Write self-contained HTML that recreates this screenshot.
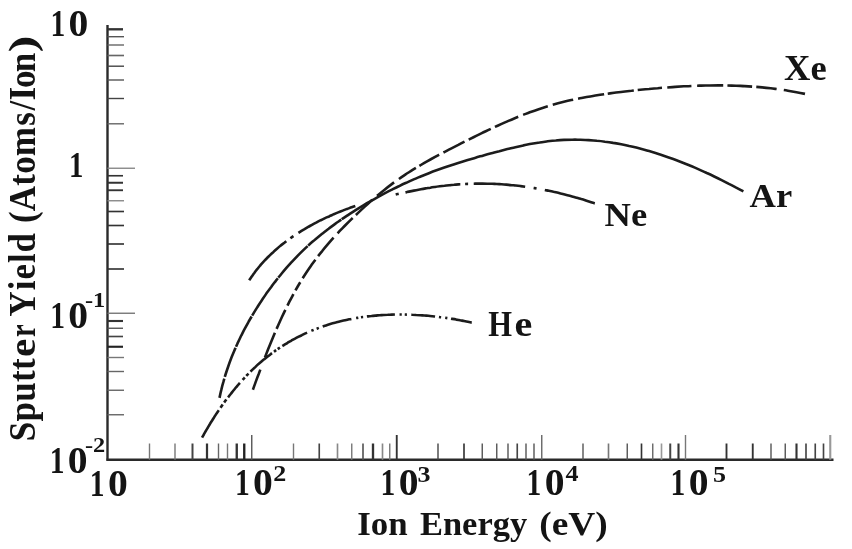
<!DOCTYPE html>
<html lang="en">
<head>
<meta charset="utf-8">
<title>Sputter Yield vs Ion Energy</title>
<style>
html,body{margin:0;padding:0;background:#fff;}
body{width:852px;height:549px;overflow:hidden;}
svg{display:block;filter:blur(0.45px);}
text{font-family:"Liberation Serif","Times New Roman",serif;font-weight:bold;fill:#141414;}
.big{font-size:33px;}.rot{font-size:35px;}
.sup{font-size:22px;}.sup2{font-size:23.5px;}
.curve{fill:none;stroke:#1c1c1c;stroke-width:2.6;stroke-linecap:butt;stroke-linejoin:round;}
</style>
</head>
<body>
<svg width="852" height="549" viewBox="0 0 852 549">
<rect x="0" y="0" width="852" height="549" fill="#ffffff"/>

<g id="axes" stroke="#2a2a2a" fill="none">
<line x1="107.5" y1="25" x2="107.5" y2="460.7" stroke-width="2.4"/>
<line x1="106.5" y1="459.7" x2="833.5" y2="459.7" stroke-width="2.6"/>
</g>
<g id="yticks">
<line x1="107.5" y1="29.3" x2="123" y2="29.3" stroke="#333" stroke-width="2.36"/>
<line x1="107.5" y1="36.7" x2="124" y2="36.7" stroke="#555" stroke-width="1.4"/>
<line x1="107.5" y1="45" x2="124" y2="45" stroke="#666" stroke-width="1.4"/>
<line x1="107.5" y1="55.5" x2="124" y2="55.5" stroke="#666" stroke-width="1.64"/>
<line x1="107.5" y1="66.2" x2="124" y2="66.2" stroke="#444" stroke-width="1.4"/>
<line x1="107.5" y1="80" x2="124" y2="80" stroke="#555" stroke-width="1.4"/>
<line x1="107.5" y1="98.5" x2="124" y2="98.5" stroke="#444" stroke-width="1.4"/>
<line x1="107.5" y1="123.8" x2="124" y2="123.8" stroke="#666" stroke-width="1.4"/>
<line x1="107.5" y1="168.25" x2="135" y2="168.25" stroke="#888" stroke-width="1.4"/>
<line x1="107.5" y1="175.75" x2="123" y2="175.75" stroke="#333" stroke-width="1.64"/>
<line x1="107.5" y1="182.75" x2="123" y2="182.75" stroke="#333" stroke-width="2.0"/>
<line x1="107.5" y1="190.25" x2="123" y2="190.25" stroke="#333" stroke-width="1.88"/>
<line x1="107.5" y1="200.75" x2="124" y2="200.75" stroke="#888" stroke-width="1.4"/>
<line x1="107.5" y1="211.5" x2="124" y2="211.5" stroke="#333" stroke-width="1.64"/>
<line x1="107.5" y1="225.5" x2="124" y2="225.5" stroke="#333" stroke-width="1.64"/>
<line x1="107.5" y1="244" x2="124" y2="244" stroke="#333" stroke-width="1.64"/>
<line x1="107.5" y1="269" x2="124" y2="269" stroke="#333" stroke-width="1.64"/>
<line x1="107.5" y1="313.25" x2="135" y2="313.25" stroke="#777" stroke-width="1.4"/>
<line x1="107.5" y1="321" x2="123" y2="321" stroke="#333" stroke-width="2.12"/>
<line x1="107.5" y1="328.25" x2="123" y2="328.25" stroke="#555" stroke-width="1.4"/>
<line x1="107.5" y1="336.5" x2="123" y2="336.5" stroke="#444" stroke-width="1.64"/>
<line x1="107.5" y1="346.75" x2="123" y2="346.75" stroke="#222" stroke-width="2.12"/>
<line x1="107.5" y1="357.5" x2="124" y2="357.5" stroke="#777" stroke-width="1.4"/>
<line x1="107.5" y1="371.5" x2="124" y2="371.5" stroke="#666" stroke-width="1.4"/>
<line x1="107.5" y1="390.25" x2="124" y2="390.25" stroke="#666" stroke-width="1.4"/>
<line x1="107.5" y1="414.75" x2="124" y2="414.75" stroke="#666" stroke-width="1.4"/>
</g>
<g id="xticks">
<line x1="149.5" y1="443.5" x2="149.5" y2="459.7" stroke="#777" stroke-width="1.4"/>
<line x1="175" y1="443.5" x2="175" y2="459.7" stroke="#777" stroke-width="1.4"/>
<line x1="192.5" y1="443.5" x2="192.5" y2="459.7" stroke="#444" stroke-width="2.0"/>
<line x1="207" y1="443.5" x2="207" y2="459.7" stroke="#333" stroke-width="2.24"/>
<line x1="218.5" y1="443.5" x2="218.5" y2="459.7" stroke="#666" stroke-width="1.4"/>
<line x1="227.5" y1="443.5" x2="227.5" y2="459.7" stroke="#777" stroke-width="1.4"/>
<line x1="236.75" y1="443.5" x2="236.75" y2="459.7" stroke="#333" stroke-width="2.36"/>
<line x1="244.25" y1="443.5" x2="244.25" y2="459.7" stroke="#222" stroke-width="2.36"/>
<line x1="251.75" y1="435" x2="251.75" y2="459.7" stroke="#555" stroke-width="1.4"/>
<line x1="293.5" y1="443.5" x2="293.5" y2="459.7" stroke="#777" stroke-width="1.4"/>
<line x1="319.25" y1="443.5" x2="319.25" y2="459.7" stroke="#444" stroke-width="1.64"/>
<line x1="337.5" y1="443.5" x2="337.5" y2="459.7" stroke="#888" stroke-width="1.64"/>
<line x1="351.75" y1="443.5" x2="351.75" y2="459.7" stroke="#777" stroke-width="1.4"/>
<line x1="363" y1="443.5" x2="363" y2="459.7" stroke="#555" stroke-width="1.64"/>
<line x1="373" y1="443.5" x2="373" y2="459.7" stroke="#333" stroke-width="2.36"/>
<line x1="382.5" y1="443.5" x2="382.5" y2="459.7" stroke="#888" stroke-width="1.64"/>
<line x1="389.75" y1="443.5" x2="389.75" y2="459.7" stroke="#777" stroke-width="1.4"/>
<line x1="396.75" y1="435" x2="396.75" y2="459.7" stroke="#333" stroke-width="1.88"/>
<line x1="438" y1="443.5" x2="438" y2="459.7" stroke="#444" stroke-width="1.4"/>
<line x1="464" y1="443.5" x2="464" y2="459.7" stroke="#333" stroke-width="1.64"/>
<line x1="482.25" y1="443.5" x2="482.25" y2="459.7" stroke="#555" stroke-width="1.4"/>
<line x1="496.75" y1="443.5" x2="496.75" y2="459.7" stroke="#555" stroke-width="1.4"/>
<line x1="508" y1="443.5" x2="508" y2="459.7" stroke="#555" stroke-width="1.4"/>
<line x1="517.25" y1="443.5" x2="517.25" y2="459.7" stroke="#444" stroke-width="1.64"/>
<line x1="526" y1="443.5" x2="526" y2="459.7" stroke="#555" stroke-width="1.4"/>
<line x1="534" y1="443.5" x2="534" y2="459.7" stroke="#555" stroke-width="1.4"/>
<line x1="541.75" y1="435" x2="541.75" y2="459.7" stroke="#666" stroke-width="1.4"/>
<line x1="583" y1="443.5" x2="583" y2="459.7" stroke="#555" stroke-width="1.4"/>
<line x1="608.5" y1="443.5" x2="608.5" y2="459.7" stroke="#777" stroke-width="1.64"/>
<line x1="627.25" y1="443.5" x2="627.25" y2="459.7" stroke="#555" stroke-width="1.4"/>
<line x1="641.5" y1="443.5" x2="641.5" y2="459.7" stroke="#333" stroke-width="1.64"/>
<line x1="652.75" y1="443.5" x2="652.75" y2="459.7" stroke="#666" stroke-width="1.4"/>
<line x1="661.5" y1="443.5" x2="661.5" y2="459.7" stroke="#999" stroke-width="1.64"/>
<line x1="670.25" y1="443.5" x2="670.25" y2="459.7" stroke="#444" stroke-width="2.0"/>
<line x1="678.5" y1="443.5" x2="678.5" y2="459.7" stroke="#333" stroke-width="2.12"/>
<line x1="685.5" y1="435" x2="685.5" y2="459.7" stroke="#777" stroke-width="1.4"/>
<line x1="726.5" y1="443.5" x2="726.5" y2="459.7" stroke="#333" stroke-width="1.88"/>
<line x1="752.75" y1="443.5" x2="752.75" y2="459.7" stroke="#333" stroke-width="1.88"/>
<line x1="771" y1="443.5" x2="771" y2="459.7" stroke="#555" stroke-width="1.4"/>
<line x1="785.25" y1="443.5" x2="785.25" y2="459.7" stroke="#555" stroke-width="1.4"/>
<line x1="796.5" y1="443.5" x2="796.5" y2="459.7" stroke="#333" stroke-width="2.12"/>
<line x1="806" y1="443.5" x2="806" y2="459.7" stroke="#444" stroke-width="1.64"/>
<line x1="815.25" y1="443.5" x2="815.25" y2="459.7" stroke="#444" stroke-width="1.64"/>
<line x1="823.5" y1="443.5" x2="823.5" y2="459.7" stroke="#444" stroke-width="1.64"/>
<line x1="830.25" y1="435" x2="830.25" y2="459.7" stroke="#999" stroke-width="2.12"/>
</g>
<g id="curves">
<path class="curve" id="he" stroke-dasharray="32.1 3.0 3.8 2.6 3.7 2.7 18.8 4.0 3.2 2.2 3.2 2.8 28.4 2.4 2.7 1.9 2.7 2.9 28.1 4.7 2.4 3.2 2.4 4.1 29.7 4.8 2.2 2.7 2.2 3.8 28.1 4.6 2.2 3.0 2.2 4.4 23.8 3.9 2.2 4.1 2.2 3.7 21.1 9999.0" d="M202.1,437.6 C202.4,437.0 203.4,435.3 204.0,434.1 C204.7,432.9 205.4,431.8 206.0,430.6 C206.7,429.5 207.4,428.3 208.1,427.1 C208.8,426.0 209.4,424.8 210.1,423.7 C210.8,422.5 211.6,421.4 212.3,420.3 C213.0,419.1 213.7,418.0 214.4,416.8 C215.2,415.7 215.9,414.6 216.6,413.4 C217.4,412.3 218.1,411.2 218.9,410.1 C219.7,409.0 220.4,407.8 221.2,406.7 C222.0,405.6 222.8,404.5 223.5,403.4 C224.3,402.3 225.1,401.2 225.9,400.1 C226.7,399.1 227.6,398.0 228.4,396.9 C229.2,395.8 230.0,394.8 230.9,393.7 C231.7,392.6 232.6,391.6 233.4,390.5 C234.3,389.5 235.1,388.4 236.0,387.4 C236.9,386.4 237.7,385.3 238.6,384.3 C239.5,383.3 240.4,382.3 241.3,381.3 C242.2,380.3 243.1,379.3 244.0,378.3 C245.0,377.3 245.9,376.3 246.8,375.3 C247.8,374.4 248.7,373.4 249.6,372.5 C250.6,371.5 251.6,370.6 252.5,369.6 C253.5,368.7 254.5,367.8 255.5,366.9 C256.5,365.9 257.4,365.0 258.5,364.1 C259.5,363.2 260.5,362.4 261.5,361.5 C262.5,360.6 263.5,359.8 264.6,358.9 C265.6,358.1 266.7,357.2 267.7,356.4 C268.8,355.6 269.8,354.8 270.9,353.9 C272.0,353.1 273.1,352.4 274.2,351.6 C275.3,350.8 276.4,350.0 277.5,349.3 C278.6,348.5 279.7,347.8 280.8,347.0 C281.9,346.3 283.1,345.6 284.2,344.9 C285.3,344.2 286.5,343.5 287.6,342.8 C288.8,342.1 289.9,341.4 291.1,340.8 C292.3,340.1 293.4,339.4 294.6,338.8 C295.8,338.2 297.0,337.6 298.2,336.9 C299.4,336.3 300.6,335.7 301.8,335.2 C303.0,334.6 304.2,334.0 305.4,333.4 C306.6,332.9 307.9,332.3 309.1,331.8 C310.3,331.3 311.6,330.8 312.8,330.2 C314.0,329.7 315.3,329.2 316.5,328.8 C317.8,328.3 319.0,327.8 320.3,327.4 C321.6,326.9 322.8,326.5 324.1,326.0 C325.4,325.6 326.6,325.2 327.9,324.8 C329.2,324.4 330.5,324.0 331.8,323.6 C333.1,323.3 334.4,322.9 335.7,322.6 C337.0,322.2 338.3,321.9 339.6,321.5 C340.9,321.2 342.2,320.9 343.5,320.6 C344.8,320.3 346.1,320.0 347.4,319.7 C348.8,319.4 350.1,319.2 351.4,318.9 C352.7,318.7 354.1,318.4 355.4,318.2 C356.7,318.0 358.1,317.7 359.4,317.5 C360.7,317.3 362.1,317.1 363.4,317.0 C364.7,316.8 366.1,316.6 367.4,316.4 C368.8,316.3 370.1,316.1 371.5,316.0 C372.8,315.8 374.2,315.7 375.5,315.6 C376.9,315.5 378.2,315.3 379.6,315.2 C380.9,315.1 382.3,315.1 383.6,315.0 C385.0,314.9 386.4,314.8 387.7,314.8 C389.1,314.7 390.4,314.7 391.8,314.6 C393.1,314.6 394.5,314.6 395.9,314.5 C397.2,314.5 398.6,314.5 399.9,314.5 C401.3,314.5 402.7,314.5 404.0,314.5 C405.4,314.6 406.7,314.6 408.1,314.6 C409.5,314.7 410.8,314.7 412.2,314.8 C413.5,314.8 414.9,314.9 416.2,315.0 C417.6,315.0 418.9,315.1 420.3,315.2 C421.6,315.3 423.0,315.4 424.3,315.5 C425.7,315.6 427.0,315.7 428.4,315.8 C429.7,316.0 431.1,316.1 432.4,316.2 C433.8,316.4 435.1,316.5 436.4,316.7 C437.8,316.8 439.1,317.0 440.4,317.2 C441.8,317.3 443.1,317.5 444.4,317.7 C445.8,317.9 447.1,318.1 448.4,318.3 C449.7,318.5 451.0,318.7 452.3,318.9 C453.7,319.1 455.0,319.3 456.3,319.6 C457.6,319.8 458.9,320.0 460.2,320.3 C461.5,320.5 462.8,320.8 464.1,321.0 C465.4,321.3 466.7,321.6 467.9,321.8 C469.2,322.1 471.1,322.5 471.8,322.6"/>
<path class="curve" id="ar" stroke-dasharray="19.8 1.8 31.1 1.2 34.0 1.0 45.4 0.8 43.1 0.7 42.1 0.6 427.5 9999.0" d="M219.5,397.9 C219.8,396.6 220.6,392.5 221.3,389.9 C221.9,387.2 222.6,384.5 223.4,381.9 C224.1,379.3 224.9,376.6 225.7,374.0 C226.5,371.4 227.4,368.8 228.3,366.2 C229.2,363.6 230.1,361.1 231.1,358.5 C232.1,356.0 233.1,353.4 234.2,350.9 C235.3,348.4 236.4,345.9 237.5,343.4 C238.7,340.9 239.8,338.5 241.0,336.0 C242.3,333.5 243.5,331.1 244.8,328.7 C246.1,326.3 247.4,323.9 248.7,321.5 C250.1,319.1 251.5,316.7 252.9,314.4 C254.3,312.0 255.7,309.7 257.2,307.4 C258.7,305.0 260.1,302.7 261.7,300.4 C263.2,298.2 264.8,295.9 266.3,293.6 C267.9,291.4 269.5,289.2 271.2,287.0 C272.8,284.7 274.5,282.6 276.1,280.4 C277.8,278.2 279.6,276.1 281.3,274.0 C283.0,271.9 284.8,269.8 286.6,267.7 C288.4,265.6 290.3,263.6 292.1,261.6 C294.0,259.6 295.9,257.6 297.8,255.6 C299.7,253.7 301.6,251.8 303.6,249.9 C305.6,248.0 307.6,246.1 309.6,244.3 C311.7,242.5 313.7,240.7 315.8,238.9 C317.9,237.2 320.0,235.5 322.1,233.8 C324.3,232.1 326.4,230.4 328.6,228.8 C330.8,227.1 333.0,225.5 335.2,223.9 C337.4,222.3 339.7,220.8 341.9,219.2 C344.2,217.7 346.5,216.1 348.7,214.6 C351.0,213.1 353.3,211.7 355.6,210.2 C358.0,208.7 360.3,207.3 362.6,205.9 C365.0,204.4 367.3,203.0 369.7,201.7 C372.1,200.3 374.5,198.9 376.9,197.6 C379.3,196.3 381.7,195.0 384.1,193.7 C386.5,192.4 388.9,191.1 391.4,189.9 C393.8,188.7 396.3,187.4 398.8,186.3 C401.2,185.1 403.7,183.9 406.2,182.8 C408.7,181.6 411.2,180.5 413.7,179.4 C416.2,178.3 418.7,177.3 421.3,176.2 C423.8,175.2 426.3,174.2 428.9,173.2 C431.4,172.2 434.0,171.2 436.5,170.3 C439.1,169.4 441.7,168.5 444.3,167.6 C446.8,166.7 449.4,165.8 452.0,164.9 C454.6,164.1 457.2,163.2 459.8,162.4 C462.4,161.6 465.1,160.8 467.7,160.0 C470.3,159.2 472.9,158.5 475.6,157.7 C478.2,156.9 480.8,156.2 483.5,155.4 C486.1,154.7 488.8,154.0 491.4,153.3 C494.1,152.6 496.7,151.8 499.4,151.2 C502.0,150.5 504.7,149.8 507.4,149.1 C510.0,148.5 512.7,147.8 515.4,147.2 C518.1,146.6 520.8,146.0 523.4,145.4 C526.1,144.9 528.8,144.3 531.5,143.8 C534.2,143.3 536.9,142.9 539.6,142.5 C542.3,142.0 545.0,141.7 547.7,141.3 C550.4,141.0 553.1,140.7 555.8,140.5 C558.6,140.2 561.3,140.0 564.0,139.9 C566.7,139.8 569.5,139.7 572.2,139.7 C574.9,139.6 577.7,139.7 580.4,139.7 C583.1,139.8 585.8,139.9 588.6,140.1 C591.3,140.3 594.0,140.5 596.8,140.8 C599.5,141.0 602.2,141.3 604.9,141.7 C607.6,142.0 610.4,142.4 613.1,142.9 C615.8,143.3 618.5,143.8 621.2,144.3 C623.9,144.8 626.6,145.4 629.2,146.0 C631.9,146.5 634.6,147.2 637.2,147.8 C639.9,148.5 642.6,149.2 645.2,149.9 C647.8,150.7 650.5,151.4 653.1,152.2 C655.7,153.0 658.3,153.9 660.9,154.7 C663.5,155.6 666.1,156.5 668.7,157.4 C671.3,158.3 673.9,159.2 676.5,160.2 C679.0,161.2 681.6,162.2 684.1,163.2 C686.7,164.2 689.2,165.3 691.7,166.3 C694.3,167.4 696.8,168.5 699.3,169.6 C701.8,170.7 704.3,171.8 706.8,173.0 C709.3,174.1 711.8,175.3 714.2,176.5 C716.7,177.7 719.2,178.9 721.6,180.1 C724.1,181.3 726.5,182.5 728.9,183.8 C731.4,185.0 733.8,186.3 736.2,187.6 C738.6,188.8 742.2,190.8 743.4,191.4"/>
<path class="curve" id="xe" stroke-dasharray="0.0 0.4 21.4 12.9 26.6 4.3 21.0 4.7 13.0 4.1 9.5 4.7 22.5 4.5 24.1 5.9 21.5 4.4 22.4 6.1 21.7 6.0 20.2 4.1 22.7 4.8 23.7 4.7 24.5 4.6 25.4 5.3 26.1 5.2 21.0 5.0 26.5 3.6 26.3 3.9 24.4 5.3 24.2 5.7 26.1 4.2 24.7 4.2 20.5 7.2 21.5 9999.0" d="M252.8,390.0 C253.3,388.7 254.7,384.6 255.7,381.9 C256.7,379.1 257.7,376.4 258.8,373.7 C259.8,371.0 260.8,368.3 261.8,365.5 C262.8,362.8 263.9,360.1 264.9,357.4 C266.0,354.7 267.0,352.0 268.1,349.3 C269.2,346.6 270.3,343.9 271.4,341.2 C272.5,338.5 273.6,335.9 274.7,333.2 C275.9,330.5 277.0,327.9 278.2,325.2 C279.4,322.6 280.6,319.9 281.8,317.3 C283.0,314.7 284.2,312.1 285.5,309.5 C286.8,306.9 288.1,304.3 289.4,301.7 C290.7,299.1 292.1,296.6 293.5,294.0 C294.9,291.5 296.3,289.0 297.7,286.5 C299.2,284.0 300.7,281.5 302.2,279.0 C303.7,276.6 305.3,274.1 306.9,271.7 C308.5,269.3 310.2,266.9 311.8,264.6 C313.5,262.2 315.2,259.9 317.0,257.6 C318.7,255.3 320.5,253.0 322.4,250.8 C324.2,248.5 326.0,246.3 327.9,244.1 C329.8,241.9 331.7,239.7 333.6,237.6 C335.6,235.4 337.6,233.3 339.5,231.2 C341.5,229.1 343.6,227.1 345.6,225.0 C347.6,223.0 349.7,220.9 351.8,218.9 C353.9,216.9 356.0,214.9 358.1,212.9 C360.2,210.9 362.3,208.9 364.5,206.9 C366.6,205.0 368.8,203.0 370.9,201.1 C373.1,199.2 375.3,197.3 377.5,195.4 C379.8,193.5 382.0,191.7 384.3,189.9 C386.5,188.1 388.8,186.3 391.1,184.6 C393.5,182.8 395.8,181.1 398.2,179.5 C400.5,177.8 402.9,176.2 405.3,174.6 C407.7,173.0 410.2,171.5 412.6,169.9 C415.1,168.4 417.5,166.9 420.0,165.5 C422.5,164.0 425.0,162.5 427.5,161.1 C430.0,159.7 432.6,158.3 435.1,156.9 C437.7,155.5 440.2,154.2 442.8,152.8 C445.4,151.5 447.9,150.1 450.5,148.8 C453.1,147.5 455.7,146.2 458.3,144.9 C460.9,143.5 463.5,142.2 466.1,140.9 C468.7,139.6 471.3,138.3 474.0,137.0 C476.6,135.8 479.2,134.5 481.8,133.2 C484.4,131.9 487.1,130.7 489.7,129.4 C492.3,128.2 495.0,126.9 497.6,125.7 C500.3,124.5 502.9,123.3 505.6,122.1 C508.2,121.0 510.9,119.8 513.6,118.7 C516.3,117.6 519.0,116.5 521.7,115.4 C524.4,114.4 527.1,113.3 529.8,112.3 C532.5,111.3 535.2,110.3 538.0,109.4 C540.7,108.5 543.4,107.6 546.2,106.7 C549.0,105.9 551.7,105.1 554.5,104.3 C557.3,103.5 560.1,102.8 562.9,102.1 C565.7,101.4 568.5,100.7 571.3,100.1 C574.2,99.5 577.0,98.9 579.8,98.3 C582.7,97.8 585.5,97.2 588.4,96.7 C591.2,96.2 594.1,95.8 597.0,95.3 C599.8,94.8 602.7,94.4 605.6,94.0 C608.5,93.6 611.3,93.2 614.2,92.8 C617.1,92.4 620.0,92.1 622.9,91.7 C625.8,91.4 628.7,91.1 631.6,90.8 C634.5,90.4 637.4,90.1 640.3,89.8 C643.2,89.5 646.1,89.2 649.0,89.0 C651.9,88.7 654.8,88.4 657.7,88.2 C660.6,87.9 663.5,87.7 666.4,87.5 C669.3,87.3 672.2,87.1 675.1,86.9 C678.0,86.7 680.9,86.5 683.8,86.3 C686.7,86.2 689.6,86.1 692.5,85.9 C695.4,85.8 698.3,85.7 701.2,85.6 C704.1,85.6 707.0,85.5 709.9,85.5 C712.8,85.4 715.7,85.4 718.6,85.4 C721.5,85.4 724.4,85.4 727.3,85.5 C730.2,85.6 733.1,85.6 736.0,85.7 C738.9,85.8 741.8,86.0 744.7,86.1 C747.6,86.3 750.5,86.5 753.3,86.7 C756.2,86.9 759.1,87.1 762.0,87.4 C764.9,87.7 767.8,88.0 770.7,88.3 C773.5,88.7 776.4,89.0 779.3,89.4 C782.2,89.8 785.0,90.2 787.9,90.7 C790.8,91.2 793.7,91.7 796.5,92.2 C799.4,92.7 803.7,93.6 805.1,93.9"/>
<path class="curve" id="ne" stroke-dasharray="0.0 0.9 54.1 5.0 3.7 6.0 63.0 42.0 3.1 6.9 55.5 4.8 3.0 5.6 51.6 8.5 3.0 8.4 51.8 9999.0" d="M248.8,280.9 C249.2,280.2 250.5,278.2 251.4,276.9 C252.4,275.6 253.3,274.3 254.3,273.0 C255.2,271.7 256.2,270.4 257.2,269.2 C258.2,267.9 259.2,266.7 260.2,265.5 C261.3,264.3 262.3,263.1 263.4,261.9 C264.5,260.8 265.5,259.6 266.6,258.5 C267.7,257.3 268.9,256.2 270.0,255.1 C271.1,254.0 272.3,252.9 273.5,251.9 C274.6,250.8 275.8,249.7 277.0,248.7 C278.2,247.7 279.4,246.7 280.6,245.6 C281.9,244.6 283.1,243.7 284.4,242.7 C285.6,241.7 286.9,240.8 288.2,239.8 C289.4,238.9 290.7,238.0 292.0,237.1 C293.3,236.2 294.7,235.3 296.0,234.4 C297.3,233.5 298.6,232.7 300.0,231.8 C301.3,231.0 302.7,230.1 304.1,229.3 C305.4,228.5 306.8,227.7 308.2,226.9 C309.6,226.1 311.0,225.4 312.4,224.6 C313.8,223.8 315.2,223.1 316.6,222.4 C318.0,221.6 319.4,220.9 320.8,220.2 C322.3,219.5 323.7,218.8 325.1,218.1 C326.6,217.5 328.0,216.8 329.5,216.2 C330.9,215.5 332.4,214.9 333.8,214.2 C335.3,213.6 336.8,213.0 338.2,212.4 C339.7,211.8 341.2,211.2 342.7,210.6 C344.1,210.1 345.6,209.5 347.1,208.9 C348.6,208.4 350.1,207.8 351.6,207.3 C353.1,206.8 354.6,206.3 356.1,205.7 C357.6,205.2 359.1,204.7 360.6,204.2 C362.1,203.8 363.6,203.3 365.2,202.8 C366.7,202.3 368.2,201.9 369.7,201.4 C371.3,201.0 372.8,200.5 374.3,200.1 C375.8,199.6 377.4,199.2 378.9,198.8 C380.5,198.4 382.0,198.0 383.5,197.6 C385.1,197.2 386.6,196.8 388.2,196.4 C389.7,196.0 391.3,195.6 392.8,195.2 C394.4,194.9 395.9,194.5 397.5,194.1 C399.0,193.8 400.6,193.4 402.1,193.1 C403.7,192.7 405.2,192.4 406.8,192.1 C408.4,191.7 409.9,191.4 411.5,191.1 C413.1,190.8 414.6,190.5 416.2,190.2 C417.7,189.9 419.3,189.6 420.9,189.3 C422.5,189.0 424.0,188.7 425.6,188.4 C427.2,188.2 428.7,187.9 430.3,187.7 C431.9,187.4 433.5,187.2 435.0,187.0 C436.6,186.7 438.2,186.5 439.8,186.3 C441.3,186.1 442.9,185.9 444.5,185.7 C446.1,185.6 447.7,185.4 449.2,185.2 C450.8,185.1 452.4,184.9 454.0,184.8 C455.6,184.6 457.2,184.5 458.7,184.4 C460.3,184.3 461.9,184.2 463.5,184.1 C465.1,184.0 466.7,183.9 468.3,183.9 C469.8,183.8 471.4,183.7 473.0,183.7 C474.6,183.7 476.2,183.6 477.8,183.6 C479.4,183.6 481.0,183.6 482.5,183.6 C484.1,183.6 485.7,183.6 487.3,183.7 C488.9,183.7 490.5,183.8 492.1,183.8 C493.6,183.9 495.2,183.9 496.8,184.0 C498.4,184.1 500.0,184.2 501.6,184.3 C503.2,184.4 504.7,184.5 506.3,184.6 C507.9,184.8 509.5,184.9 511.1,185.1 C512.7,185.2 514.2,185.4 515.8,185.5 C517.4,185.7 519.0,185.9 520.6,186.1 C522.1,186.3 523.7,186.5 525.3,186.7 C526.9,186.9 528.4,187.2 530.0,187.4 C531.6,187.6 533.2,187.9 534.7,188.1 C536.3,188.4 537.9,188.7 539.4,189.0 C541.0,189.2 542.6,189.5 544.1,189.8 C545.7,190.1 547.3,190.5 548.8,190.8 C550.4,191.1 551.9,191.4 553.5,191.8 C555.1,192.1 556.6,192.5 558.2,192.8 C559.7,193.2 561.3,193.6 562.8,194.0 C564.4,194.4 565.9,194.8 567.4,195.2 C569.0,195.6 570.5,196.0 572.1,196.4 C573.6,196.8 575.1,197.3 576.7,197.7 C578.2,198.2 579.7,198.6 581.3,199.1 C582.8,199.5 584.3,200.0 585.8,200.5 C587.3,201.0 588.9,201.5 590.4,202.0 C591.9,202.5 594.1,203.3 594.9,203.5"/>
</g>
<g id="labels">
<text class="big" style="font-size:37px" x="50.5" y="35.8"><tspan textLength="14.8" lengthAdjust="spacingAndGlyphs">1</tspan><tspan dx="3.3" textLength="19.8" lengthAdjust="spacingAndGlyphs">0</tspan></text>
<text class="big" transform="translate(68.9,177.3) scale(0.8,1)" style="font-size:36px">1</text>
<text class="big" style="font-size:37px" x="50.2" y="328"><tspan textLength="14.8" lengthAdjust="spacingAndGlyphs">1</tspan><tspan dx="3.3" textLength="19.8" lengthAdjust="spacingAndGlyphs">0</tspan></text><text class="sup" transform="translate(85,306.5) scale(1.108,1)">-1</text>
<text class="big" style="font-size:37px" x="49.7" y="473"><tspan textLength="14.8" lengthAdjust="spacingAndGlyphs">1</tspan><tspan dx="3.3" textLength="19.8" lengthAdjust="spacingAndGlyphs">0</tspan></text><text class="sup" transform="translate(85,451.5) scale(1.108,1)">-2</text>
<text class="big" style="font-size:37px" x="89.8" y="495.5"><tspan textLength="14.8" lengthAdjust="spacingAndGlyphs">1</tspan><tspan dx="3.3" textLength="19.8" lengthAdjust="spacingAndGlyphs">0</tspan></text>
<text class="big" style="font-size:37px" x="235.0" y="495"><tspan textLength="14.8" lengthAdjust="spacingAndGlyphs">1</tspan><tspan dx="3.3" textLength="19.8" lengthAdjust="spacingAndGlyphs">0</tspan></text><text class="sup2" transform="translate(273.3,481) scale(1.108,1)">2</text>
<text class="big" style="font-size:37px" x="380.6" y="495"><tspan textLength="14.8" lengthAdjust="spacingAndGlyphs">1</tspan><tspan dx="3.3" textLength="19.8" lengthAdjust="spacingAndGlyphs">0</tspan></text><text class="sup2" transform="translate(417.5,481.5) scale(1.108,1)">3</text>
<text class="big" style="font-size:37px" x="526.6" y="495"><tspan textLength="14.8" lengthAdjust="spacingAndGlyphs">1</tspan><tspan dx="3.3" textLength="19.8" lengthAdjust="spacingAndGlyphs">0</tspan></text><text class="sup2" transform="translate(565.5,481) scale(1.108,1)">4</text>
<text class="big" style="font-size:37px" x="670.6" y="495"><tspan textLength="14.8" lengthAdjust="spacingAndGlyphs">1</tspan><tspan dx="3.3" textLength="19.8" lengthAdjust="spacingAndGlyphs">0</tspan></text><text class="sup2" transform="translate(713,481.5) scale(1.108,1)">5</text>
<text class="big" transform="translate(357.3,535) scale(1.108,1)" textLength="45.5" lengthAdjust="spacingAndGlyphs" style="font-size:34.5px">Ion</text>
<text class="big" transform="translate(420,535) scale(1.108,1)" textLength="96.7" lengthAdjust="spacingAndGlyphs" style="font-size:34.5px">Energy</text>
<text class="big" transform="translate(539.3,535) scale(1.108,1)" textLength="61.8" lengthAdjust="spacingAndGlyphs" style="font-size:34.5px">(eV)</text>
<text class="rot" transform="translate(35,441.2) scale(1.085,1) rotate(-90)" letter-spacing="0.28">Sputt<tspan dx="1.2" textLength="18.6" lengthAdjust="spacingAndGlyphs">e</tspan><tspan dx="1.3" textLength="12.9" lengthAdjust="spacingAndGlyphs">r</tspan></text>
<text class="rot" transform="translate(35,316.6) scale(1.085,1) rotate(-90)">Y</text>
<text class="rot" transform="translate(35,290.2) scale(1.085,1) rotate(-90)" letter-spacing="0.95">ield</text>
<text class="rot" transform="translate(35,223) scale(1.085,1) rotate(-90)" letter-spacing="0.2">(Atom<tspan dx="1">s</tspan><tspan dx="1.5">/</tspan>I<tspan dx="-1.2">o</tspan><tspan dx="-2">n</tspan><tspan dx="0" textLength="17.2" lengthAdjust="spacingAndGlyphs">)</tspan></text>
<text class="big" transform="translate(784,80) scale(1.045,1)" style="font-size:35px">Xe</text>
<text class="big" transform="translate(749.5,207.4) scale(1.085,1)" style="font-size:33.7px">Ar</text>
<text class="big" transform="translate(604.5,225.8) scale(1.108,1)">Ne</text>
<text class="big" style="font-size:36px" x="488.2" y="335.7"><tspan textLength="23.8" lengthAdjust="spacingAndGlyphs">H</tspan><tspan dx="2.4" textLength="17.8" lengthAdjust="spacingAndGlyphs">e</tspan></text>
</g>
</svg>
</body>
</html>
